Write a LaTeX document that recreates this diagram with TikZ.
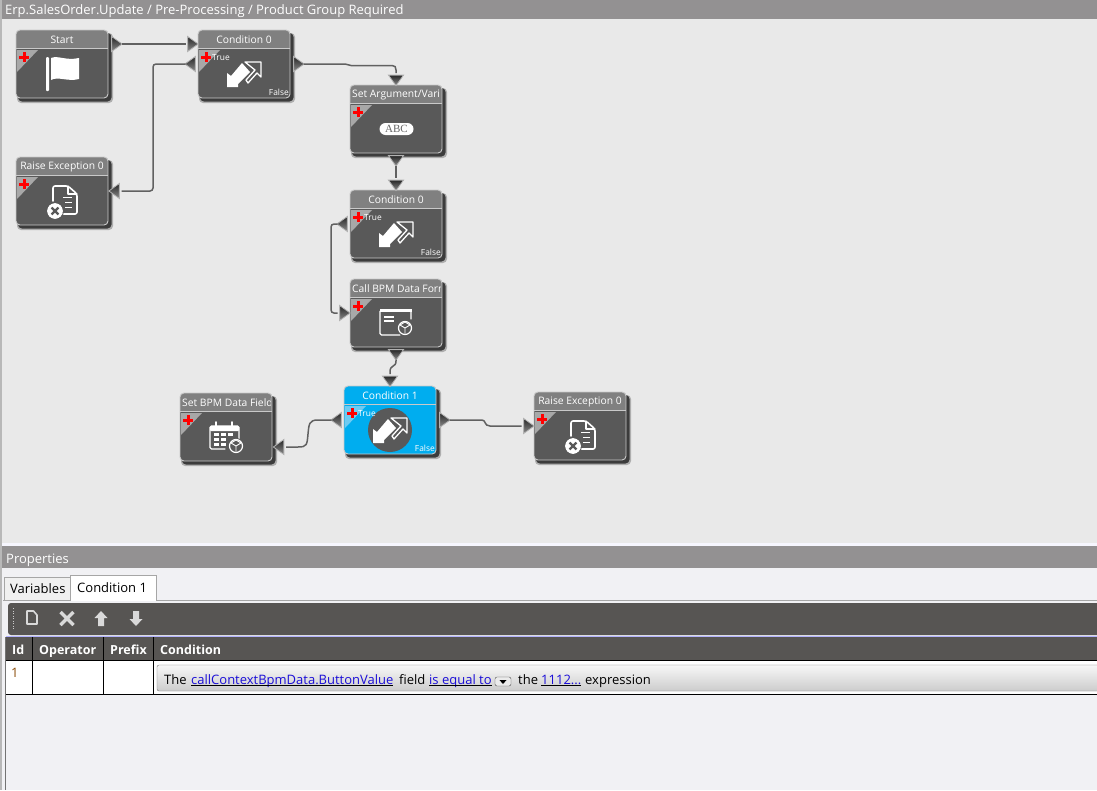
\documentclass[tikz,border=0pt]{standalone}
\usepackage{fontspec}
\setmainfont{Open Sans}
\newfontfamily\abcfont{Liberation Serif}
\usetikzlibrary{shapes.geometric,calc}
\definecolor{canvas}{HTML}{E9E9E9}
\definecolor{barg}{HTML}{939192}
\definecolor{blockg}{HTML}{595959}
\definecolor{headg}{HTML}{808080}
\definecolor{edgeg}{HTML}{C9C9C9}
\definecolor{cornerg}{HTML}{A8A8A8}
\definecolor{selblue}{HTML}{00ADEF}
\definecolor{cornerb}{HTML}{6FCBF2}
\definecolor{toolg}{HTML}{575553}
\definecolor{paneg}{HTML}{F1F1F4}
\definecolor{linkb}{HTML}{1A0DD8}
\definecolor{idbrown}{HTML}{8A4B08}
\tikzset{
  x=1pt,y=-1pt,
  port/.style={isosceles triangle,isosceles triangle stretches,inner sep=0pt,minimum width=15pt,minimum height=10.5pt,
    draw=black!30,line width=.8pt,top color=black!85,bottom color=black!45},
  portr/.style={port,shape border rotate=0},
  portl/.style={port,shape border rotate=180},
  portd/.style={port,shape border rotate=-90},
  conn/.style={draw=black!62,line width=1.5pt,rounded corners=3pt,shorten >=6pt,shorten <=6pt},
  blocktitle/.style={text=white,font=\fontsize{10.3}{12}\selectfont,inner sep=0pt},
  smalltxt/.style={text=white,font=\fontsize{8.4}{9}\selectfont,inner sep=0pt},
  paneltxt/.style={inner sep=0pt,anchor=base west,font=\fontsize{13}{15}\selectfont},
  headtxt/.style={inner sep=0pt,anchor=base west,text=white,font=\bfseries\fontsize{12.5}{15}\selectfont},
  iconln/.style={draw=white,line width=1.3pt,line join=round,line cap=round},
  sep/.style={draw=black,line width=1.2pt},
}
\newcommand{\plusmark}{\fill[red] (3,25.5) rectangle (13,28.5);\fill[red] (6.5,22) rectangle (9.5,32);}
% #1 name, #2 x, #3 y, #4 body colour, #5 header colour, #6 corner colour, #7 title, #8 icon code
\newcommand{\block}[8]{%
  \begin{scope}[shift={(#2,#3)}]
    \fill[black,opacity=.25,rounded corners=4pt] (1,3) rectangle (97,73);
    \fill[black,opacity=.65,rounded corners=4pt] (2,3) rectangle (95.5,71.5);
    \node[draw=none,fill=#4,rounded corners=4pt,minimum width=92pt,minimum height=68pt,inner sep=0pt,anchor=north west] (#1) at (0,0) {};
    \begin{scope}
      \clip[rounded corners=4pt] (0,0) rectangle (92,68);
      \fill[#5] (0,0) rectangle (92,18);
      \fill[#6] (1,20) -- (22,20) -- (1,42) -- cycle;
    \end{scope}
    \plusmark
    \draw[edgeg,line width=.9pt] (0,18) -- (92,18);
    \draw[edgeg,line width=.9pt,rounded corners=4pt] (0,0) rectangle (92,68);
    \begin{scope}
      \clip (2,0) rectangle (90,18);
      #7
    \end{scope}
    #8
  \end{scope}}
\newcommand{\ttlc}[2]{\node[blocktitle] (#1) at (46,9.7) {#2};}
\newcommand{\ttll}[2]{\node[blocktitle,anchor=west] (#1) at (2,9.7) {#2};}
\newcommand{\flagicon}{%
  \fill[white,rounded corners=1pt] (30,27) rectangle (33,61);
  \fill[white] (35,28) .. controls (42,25) and (50,31) .. (63,28) -- (63,49) .. controls (52,52) and (42,46) .. (35,50) -- cycle;}
\newcommand{\condicon}{%
  \fill[white] (29,57) -- (29,43) -- (33,46) -- (44,33) -- (52,42) -- (40,54) -- (40,57) -- cycle;
  \draw[iconln] (47,32) -- (63,32) -- (63,47) -- (59,43) -- (50,53) -- (48,50) -- (57,40) -- cycle;
  }
\newcommand{\condtxt}[2]{\node[smalltxt,anchor=west] (#1) at (14,28) {True};\node[smalltxt,anchor=east] (#2) at (91,62) {False};}
\newcommand{\cube}[2]{%
  \fill[blockg] (#1,#2) circle (8);
  \draw[white,line width=1.2pt] (#1,#2) circle (6.5);
  \draw[white,line width=.9pt] (#1,#2) -- ++(0,5.5) (#1,#2) -- ++(-5,-3) (#1,#2) -- ++(5,-3) ($(#1,#2)+(-5,-3)$) -- ++(5,-3) -- ++(5,3);}
\newcommand{\docicon}{%
  \draw[iconln,line width=1.6pt,rounded corners=2pt] (37,44) -- (37,29) -- (52,29) -- (61,37) -- (61,57) -- (44,57);
  \draw[iconln,line width=1.2pt] (52,29) -- (52,37) -- (61,37);
  \draw[white,line width=1pt] (47,40) -- (56,40) (49,45) -- (56,45) (49,50) -- (56,50);
  \fill[white] (39,54) circle (8);
  \draw[blockg,line width=2.4pt] (35.6,50.6) -- (42.4,57.4) (35.6,57.4) -- (42.4,50.6);
  \draw[blockg,line width=.8pt] (39,54) circle (8.5);}
\newcommand{\formicon}{%
  \draw[iconln,rounded corners=1.5pt] (50,56) -- (30,56) -- (30,31) -- (61,31) -- (61,40);
  \fill[white] (29.5,30) rectangle (61.5,33);
  \draw[white,line width=1.2pt] (34,38) -- (44,38) (34,42) -- (44,42);
  \cube{55}{49}}
\newcommand{\calicon}{%
  \draw[iconln,rounded corners=1.5pt] (45,56) -- (30,56) -- (30,33) -- (59,33) -- (59,46);
  \fill[white,rounded corners=1pt] (30,33) rectangle (59,38);
  \draw[iconln,line width=1.6pt] (36,29) -- (36,35) (52,29) -- (52,35);
  \foreach \a/\b in {34/40,41/40,48/40,34/45,41/45,34/50,41/50}{\fill[white] (\a,\b) rectangle ++(5,3);}
  \cube{56}{53}}
\newcommand{\linkt}[1]{\underline{\smash{\textcolor{linkb}{#1}}}}
\begin{document}
\begin{tikzpicture}
\useasboundingbox (0,0) rectangle (1097,790);
% panes
\fill[canvas] (0,0) rectangle (1097,545);
\fill[black!28] (0,0) rectangle (2,790);
\fill[barg] (2,0) rectangle (1097,19);
\node[paneltxt,text=white] (maintitle) at (5,14) {Erp.SalesOrder.Update / Pre-Processing / Product Group Required};
\fill[paneg!60!blue!8!white] (2,543) rectangle (1097,546);
\fill[paneg] (2,546) rectangle (1097,790);
\fill[barg] (2,546) rectangle (1097,568);
\node[paneltxt,text=white] (proptitle) at (6,563) {Properties};
% blocks
\block{b1}{16}{30}{blockg}{headg}{cornerg}{\ttlc{b1t}{Start}}{\flagicon}
\block{b2}{198}{30}{blockg}{headg}{cornerg}{\ttlc{b2t}{Condition 0}}{\condicon\condtxt{b2a}{b2b}}
\block{b3}{16}{157}{blockg}{headg}{cornerg}{\ttlc{b3t}{Raise Exception 0}}{\docicon}
\block{b4}{350}{85}{blockg}{headg}{cornerg}{\ttll{b4t}{Set Argument/Vari}}{\node[fill=white,rounded corners=6pt,minimum width=34pt,minimum height=12pt,inner sep=0pt,text=black!60,font=\abcfont\fontsize{11}{12}\selectfont] (b4i) at (46.5,44) {ABC};}
\block{b5}{350}{190}{blockg}{headg}{cornerg}{\ttlc{b5t}{Condition 0}}{\condicon\condtxt{b5a}{b5b}}
\block{b6}{350}{279}{blockg}{headg}{cornerg}{\ttll{b6t}{Call BPM Data Form}}{\formicon}
\block{b7}{180}{393}{blockg}{headg}{cornerg}{\ttll{b7t}{Set BPM Data Field}}{\calicon}
\block{b8}{344}{386}{selblue}{selblue}{cornerb}{\ttlc{b8t}{Condition 1}}{\fill[blockg] (46,44) circle (22);\condicon\condtxt{b8a}{b8b}}
\block{b9}{534}{392}{blockg}{headg}{cornerg}{\ttlc{b9t}{Raise Exception 0}}{\docicon}
% ports
\node[portr] (p1o) at (115.5,44) {};
\node[portr] (p2i) at (191.5,44) {};
\node[portl] (p2j) at (191.5,64) {};
\node[portl] (p3o) at (115.5,191) {};
\node[portr] (p2o) at (297.5,64) {};
\node[portd] (p4i) at (396,79) {};
\node[portd] (p4o) at (396,159.5) {};
\node[portd] (p5i) at (396,184) {};
\node[portl] (p5j) at (343.5,224) {};
\node[portr] (p6i) at (343.5,313) {};
\node[portd] (p6o) at (396,353.5) {};
\node[portd] (p8i) at (390,380) {};
\node[portl] (p8j) at (337.5,420) {};
\node[portl] (p7i) at (280,447) {};
\node[portr] (p8o) at (443.5,420) {};
\node[portr] (p9i) at (527.5,426) {};
% connectors
\draw[conn] (p1o.center) -- (p2i.center);
\draw[conn] (p2j.center) -- (153,64) -- (153,191) -- (p3o.center);
\draw[conn,rounded corners=0pt] (p2o.center) -- (345,64) .. controls (348,64) and (348,65.5) .. (351,65.5) -- (392,65.5) .. controls (395,65.5) and (396,67) .. (396,70) -- (p4i.center);
\draw[conn] (p4o.center) -- (p5i.center);
\draw[conn] (p5j.center) -- (331,224) -- (331,313) -- (p6i.center);
\draw[conn,rounded corners=0pt] (p6o.center) -- (396,361) .. controls (396,368) and (390,364) .. (390,372) -- (p8i.center);
\draw[conn,rounded corners=0pt] (p8j.center) -- (318,420) .. controls (309,420) and (309,424) .. (308,434) .. controls (307,445) and (307,447) .. (298,447) -- (p7i.center);
\draw[conn,rounded corners=0pt] (p8o.center) -- (482,420) .. controls (486,420) and (484,426) .. (490,426) -- (p9i.center);
% properties tabs
\draw[black!35,fill=black!6] (4,600) -- (4,577) -- (70,577) -- (70,600);
\draw[black!35] (3,600) -- (1097,600);
\draw[black!35,fill=white] (70,600.5) -- (70,575) -- (156,575) -- (156,600.5);
\fill[white] (70.5,599) rectangle (155.5,601);
\node[paneltxt] (tabv) at (10,593) {Variables};
\node[paneltxt] (tabc) at (77,592) {Condition 1};
% toolbar
\fill[toolg,rounded corners=3pt] (8,603) rectangle (1110,635);
\foreach \yy in {608,610.5,...,630}{\fill[white!80!black] (12.5,\yy) rectangle (13.7,\yy+1);}
\draw[white!85!black,line width=1.6pt,line join=round] (27,611) -- (33.5,611) -- (37,615) -- (37,624) -- (27,624) -- cycle;
\draw[white!85!black,line width=3.4pt] (60.5,612) -- (73.5,625) (60.5,625) -- (73.5,612);
\fill[white!85!black] (101,611) -- (107.5,618) -- (104,618) -- (104,626) -- (98,626) -- (98,618) -- (94.5,618) -- cycle;
\fill[white!85!black] (136,626) -- (142.5,619) -- (139,619) -- (139,611) -- (133,611) -- (133,619) -- (129.5,619) -- cycle;
% table
\fill[toolg] (6,637) rectangle (1097,660.5);
\draw[blue!30!white,line width=.8pt] (6,636) -- (1097,636);
\fill[white] (6,661) rectangle (1097,694);
\draw[sep] (5.5,660.5) -- (1097,660.5) (5.5,694.5) -- (1097,694.5);
\draw[sep] (32.5,637) -- (32.5,694) (103.5,637) -- (103.5,694) (153.5,637) -- (153.5,694);
\draw[black!55,line width=1pt] (5.5,637) -- (5.5,790);
\node[headtxt] (hid) at (12,654) {Id};
\node[headtxt] (hop) at (39,654) {Operator};
\node[headtxt] (hpr) at (110,654) {Prefix};
\node[headtxt] (hco) at (160,654) {Condition};
\node[paneltxt,text=idbrown] (row1) at (11,677) {1};
% condition pill
\shade[top color=black!3,bottom color=black!20,rounded corners=2pt] (157,665) rectangle (1110,691);
\draw[black!55,rounded corners=2pt] (157,665) rectangle (1110,691);
\node[paneltxt] (t1) at (164,684) {The};
\node[paneltxt] (t2) at (191,684) {\linkt{callContextBpmData.ButtonValue}};
\node[paneltxt] (t3) at (399,684) {field};
\node[paneltxt] (t4) at (429,684) {\linkt{is equal to}};
\draw[black!70,fill=black!8,rounded corners=2pt] (495,677) rectangle (511,686);
\fill[black] (499.5,680) -- (506.5,680) -- (503,684) -- cycle;
\node[paneltxt] (t5) at (518,684) {the};
\node[paneltxt] (t6) at (541,684) {\linkt{1112...}};
\node[paneltxt] (t7) at (585,684) {expression};
\end{tikzpicture}
\end{document}
